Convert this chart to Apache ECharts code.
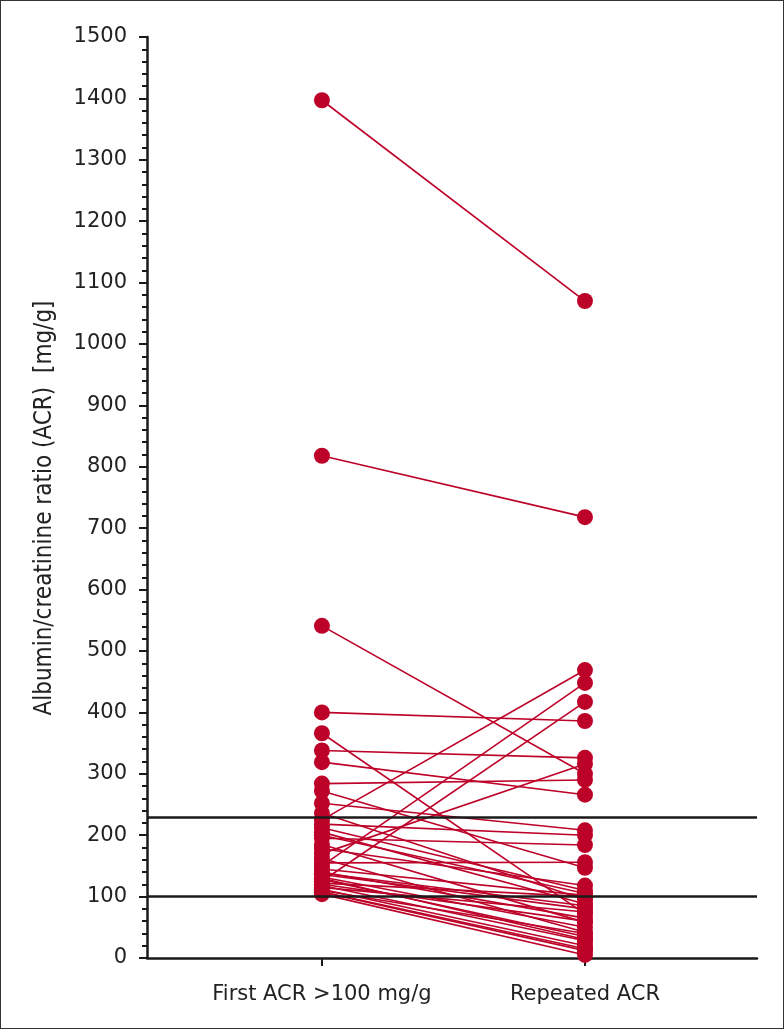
<!DOCTYPE html>
<html><head><meta charset="utf-8">
<script src="https://cdn.jsdelivr.net/npm/echarts@6/dist/echarts.min.js"></script>
<style>
html,body{margin:0;padding:0;background:#fff;}
#frame{position:absolute;left:0;top:0;width:784px;height:1029px;box-sizing:border-box;border:1.5px solid #333;}
#c{position:absolute;left:0;top:0;width:784px;height:1029px;}
</style></head>
<body><div id="c"></div><div id="frame"></div>
<script>
const categories = ['First ACR >100 mg/g', 'Repeated ACR'];
const firstACR =    [1397, 818, 541, 400, 366, 338, 319, 284, 272, 252, 236, 225, 218, 212, 205, 200, 195, 185, 178, 170, 162, 155, 150, 145, 140, 138, 136, 132, 130, 128, 125, 122, 120, 118, 115, 112, 110, 108, 107, 104];
const repeatedACR = [1070, 718, 300, 386,  72, 326, 266, 290, 147, 208,  95, 469, 200, 110,  88, 105, 184,  58, 118, 316,  42, 156, 448, 102,  65,  85,  80,  50,  30,  35, 417, 100,  60,  28,  75,  20,  40,  15,  12,   5];
const thresholds = [230, 100];
const yTicks = [0,100,200,300,400,500,600,700,800,900,1000,1100,1200,1300,1400,1500];
const yTitle = 'Albumin/creatinine ratio (ACR)  [mg/g]';

const red = '#bd0229';
const font = '"DejaVu Sans", sans-serif';
const series = firstACR.map((v, i) => ({
  type: 'line',
  data: [[0, v], [1, repeatedACR[i]]],
  symbol: 'circle', symbolSize: 16,
  itemStyle: {color: red},
  lineStyle: {color: red, width: 1.6},
  silent: true, animation: false, z: 3
}));
series.push({
  type: 'line', data: [], silent: true, animation: false,
  markLine: {
    symbol: 'none', silent: true, animation: false,
    label: {show: false},
    lineStyle: {color: '#1a1a1a', width: 2.5, type: 'solid'},
    data: thresholds.map(t => ({yAxis: t}))
  }, z: 5
});

const chart = echarts.init(document.getElementById('c'));
chart.setOption({
  animation: false,
  grid: {left: 147, right: 27, top: 37, bottom: 71},
  graphic: [{
    type: 'text', rotation: Math.PI / 2,
    x: 45, y: 508,
    style: {text: yTitle, fill: '#222',
      font: '24px "DejaVu Sans Condensed", "Liberation Sans Narrow", sans-serif',
      align: 'center', verticalAlign: 'middle'}
  }],
  xAxis: {
    type: 'value', min: -0.665, max: 1.654,
    splitLine: {show: false},
    axisLine: {onZero: false, lineStyle: {color: '#1a1a1a', width: 2.5}},
    axisTick: {show: true, customValues: [0, 1], length: 8, lineStyle: {color: '#1a1a1a', width: 2}},
    axisLabel: {customValues: [0, 1], formatter: v => categories[Math.round(v)],
      color: '#222', fontSize: 21, fontFamily: font, margin: 26}
  },
  yAxis: {
    type: 'value', min: 0, max: 1500, interval: 100,
    splitLine: {show: false},
    axisLine: {show: true, onZero: false, lineStyle: {color: '#1a1a1a', width: 2.5}},
    axisTick: {show: true, length: 8, lineStyle: {color: '#1a1a1a', width: 2}},
    minorTick: {show: true, splitNumber: 5, length: 5, lineStyle: {color: '#1a1a1a', width: 2}},
    axisLabel: {color: '#222', fontSize: 21, fontFamily: font, margin: 20,
      formatter: v => yTicks.includes(v) ? String(v) : ''}
  },
  series: series
});
</script></body></html>
